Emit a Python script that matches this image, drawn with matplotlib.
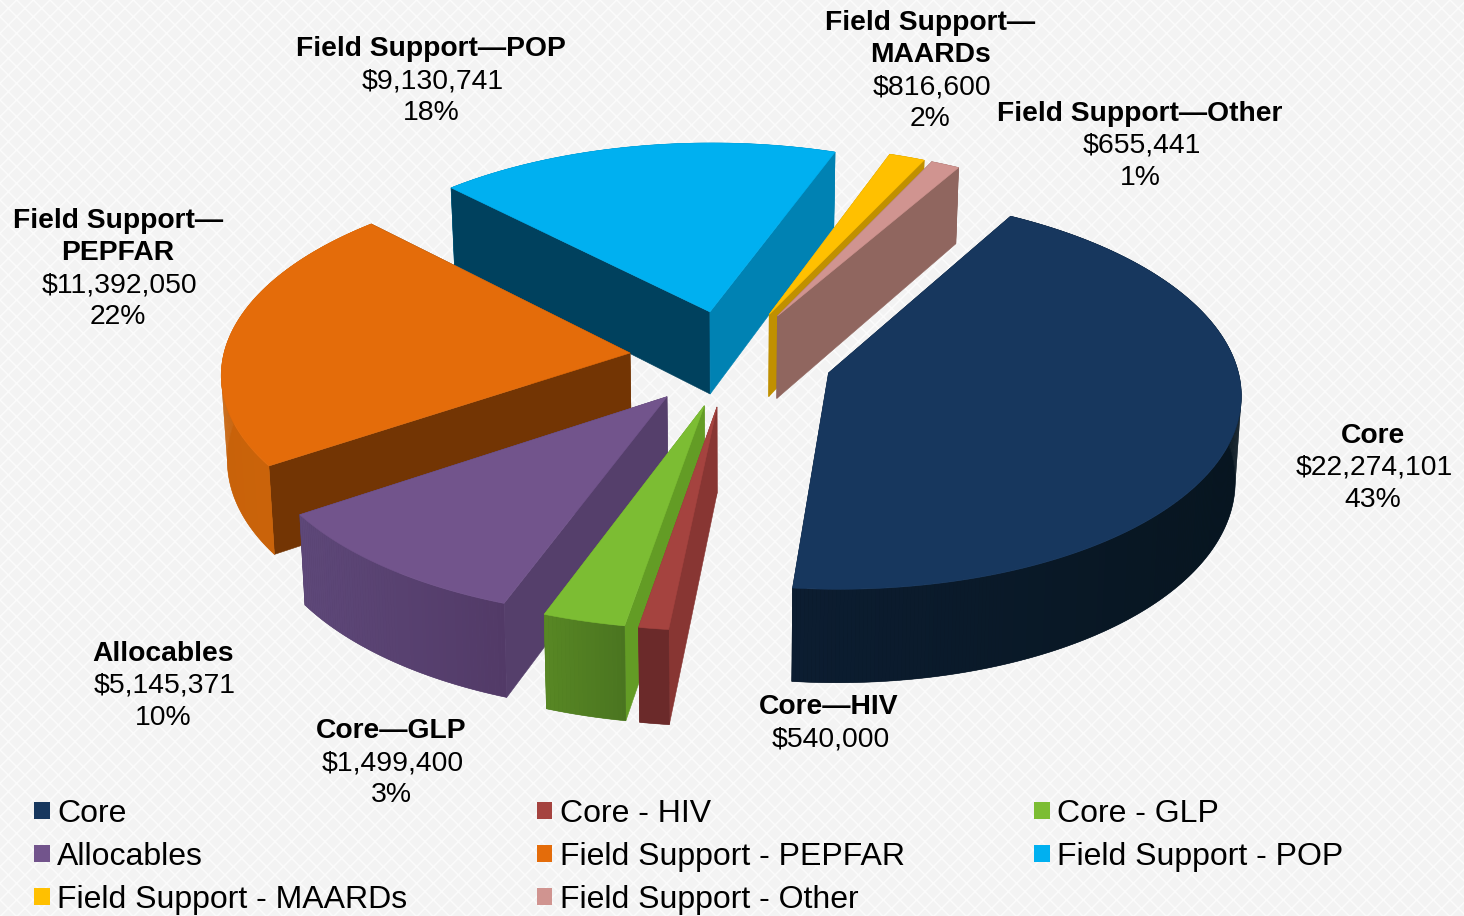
import numpy as np
import matplotlib
matplotlib.use("Agg")
import matplotlib.pyplot as plt
from matplotlib.patches import Polygon, Rectangle, Patch
from matplotlib.colors import to_rgb

# ---- data ----
categories = ["Core", "Core - HIV", "Core - GLP", "Allocables",
              "Field Support - PEPFAR", "Field Support - POP",
              "Field Support - MAARDs", "Field Support - Other"]
amounts = [22274101, 540000, 1499400, 5145371, 11392050, 9130741, 816600, 655441]
label_titles = ["Core", "Core\u2014HIV", "Core\u2014GLP", "Allocables",
                "Field Support\u2014\nPEPFAR", "Field Support\u2014POP",
                "Field Support\u2014\nMAARDs", "Field Support\u2014Other"]
show_percent = [True, False, True, True, True, True, True, True]

# ---- style ----
top_colors = ["#17375e", "#a5433f", "#7cbd33", "#72548c", "#e46c0a", "#00b0f0", "#ffc000", "#d09490"]
wall_left = ["#0c1d31", "#6b2a2a", "#588724", "#5e4879", "#c8620a", "#0082b3", "#c09000", "#90665f"]
wall_right = ["#07151f", "#6b2a2a", "#4a7420", "#523a67", "#cf660a", "#0082b3", "#c09000", "#90665f"]
face_start = ["#0c1d31", "#883633", "#639c25", "#553f6b", "#733504", "#00415e", "#c09000", "#90665f"]
face_end = ["#0c1d31", "#883633", "#639c25", "#553f6b", "#733504", "#0082b3", "#c09000", "#90665f"]
label_x = [1373, 829, 391, 163, 118, 431, 930, 1140]
label_base = [443, 714, 738, 661, 228, 56, 30, 121]
draw_order = [5, 6, 7, 4, 0, 3, 2, 1]

plt.rcParams["font.family"] = ["Liberation Sans", "DejaVu Sans"]
plt.rcParams["hatch.linewidth"] = 1.1

fig = plt.figure(figsize=(14.64, 9.16), dpi=100)
ax = fig.add_axes([0, 0, 1, 1])
ax.set_xlim(0, 1464)
ax.set_ylim(916, 0)
ax.axis("off")

ax.add_patch(Rectangle((0, 0), 1464, 916, facecolor="#f3f3f3", edgecolor="#fbfbfb",
                       hatch="xx", linewidth=0, zorder=0))

CX, CY, A, B, K, H, EXPLODE, START, TAPER = 731, 358, 407, 193, 0.094, 84, 0.25, 60.0, 0.012


def project(X, Y, z=0.0):
    s = 1.0 / (1.0 + K * Y)
    return CX + A * X * s * (1 - TAPER * z), CY - B * Y * s + z * H * s


amounts_arr = np.array(amounts, dtype=float)
spans = amounts_arr / amounts_arr.sum() * 360
starts = START - np.concatenate([[0], np.cumsum(spans)[:-1]])
ends = starts - spans


def lerp(c0, c1, f):
    c0, c1 = np.array(to_rgb(c0)), np.array(to_rgb(c1))
    return tuple(c0 + (c1 - c0) * f)


z = 1
for i in draw_order:
    mid = np.radians((starts[i] + ends[i]) / 2)
    ox, oy = EXPLODE * np.cos(mid), EXPLODE * np.sin(mid)
    t = np.radians(np.linspace(starts[i], ends[i], max(8, int(spans[i] * 2))))
    X, Y = ox + np.cos(t), oy + np.sin(t)
    tx, ty = project(X, Y, 0)
    bx, by = project(X, Y, 1)
    ax0, ay0 = project(ox, oy, 0)
    ax1, ay1 = project(ox, oy, 1)

    def draw_faces():
        global z
        ax.add_patch(Polygon([(ax0, ay0), (tx[0], ty[0]), (bx[0], by[0]), (ax1, ay1)],
                             facecolor=face_start[i], edgecolor=face_start[i], lw=0.4, zorder=z))
        z += 1
        ax.add_patch(Polygon([(ax0, ay0), (tx[-1], ty[-1]), (bx[-1], by[-1]), (ax1, ay1)],
                             facecolor=face_end[i], edgecolor=face_end[i], lw=0.4, zorder=z))
        z += 1

    def draw_wall():
        global z
        base = lerp(wall_left[i], wall_right[i], 0.5)
        ax.add_patch(Polygon(np.column_stack([np.r_[tx, bx[::-1]], np.r_[ty, by[::-1]]]),
                             facecolor=base, edgecolor=base, lw=0.4, zorder=z))
        z += 1
        xmin, xmax = tx.min(), tx.max()
        for j in range(len(t) - 1):
            f = ((tx[j] + tx[j + 1]) / 2 - xmin) / max(xmax - xmin, 1)
            col = lerp(wall_left[i], wall_right[i], f)
            ax.add_patch(Polygon([(tx[j], ty[j]), (tx[j + 1], ty[j + 1]),
                                  (bx[j + 1], by[j + 1]), (bx[j], by[j])],
                                 facecolor=col, edgecolor="none", lw=0, zorder=z))
        z += 1

    # walls of back slices face away: paint them before the radial faces
    if np.sin(mid) > 0.5:
        draw_wall()
        draw_faces()
    else:
        draw_faces()
        draw_wall()
    ax.add_patch(Polygon(np.column_stack([np.r_[ax0, tx], np.r_[ay0, ty]]),
                         facecolor=top_colors[i], edgecolor=top_colors[i], lw=0.4, zorder=z))
    z += 1

# data labels, one text per line on a 32 px line pitch
total = amounts_arr.sum()
for i, title in enumerate(label_titles):
    y = label_base[i]
    for line in title.split("\n"):
        ax.text(label_x[i], y, line, ha="center", va="baseline", fontsize=20.3,
                fontweight="bold", color="black", zorder=100)
        y += 32
    ax.text(label_x[i] + 1.5, y, f"${amounts[i]:,}", ha="center", va="baseline",
            fontsize=20.4, color="black", zorder=100)
    y += 32
    if show_percent[i]:
        ax.text(label_x[i], y, f"{amounts[i] / total * 100:.0f}%", ha="center", va="baseline",
                fontsize=20.4, color="black", zorder=100)

# legend
handles = [Patch(facecolor=c, edgecolor="none", label=n) for c, n in zip(top_colors, categories)]
order = [0, 3, 6, 1, 4, 7, 2, 5]
ax.legend([handles[o] for o in order], [categories[o] for o in order], ncol=3,
          loc="upper left", bbox_to_anchor=(34, 799), bbox_transform=ax.transData,
          frameon=False, fontsize=23, borderpad=0, borderaxespad=0,
          handlelength=0.5, handleheight=0.45, handletextpad=0.22,
          labelspacing=0.4, columnspacing=4.05)

fig.savefig("out.png", dpi=100)
